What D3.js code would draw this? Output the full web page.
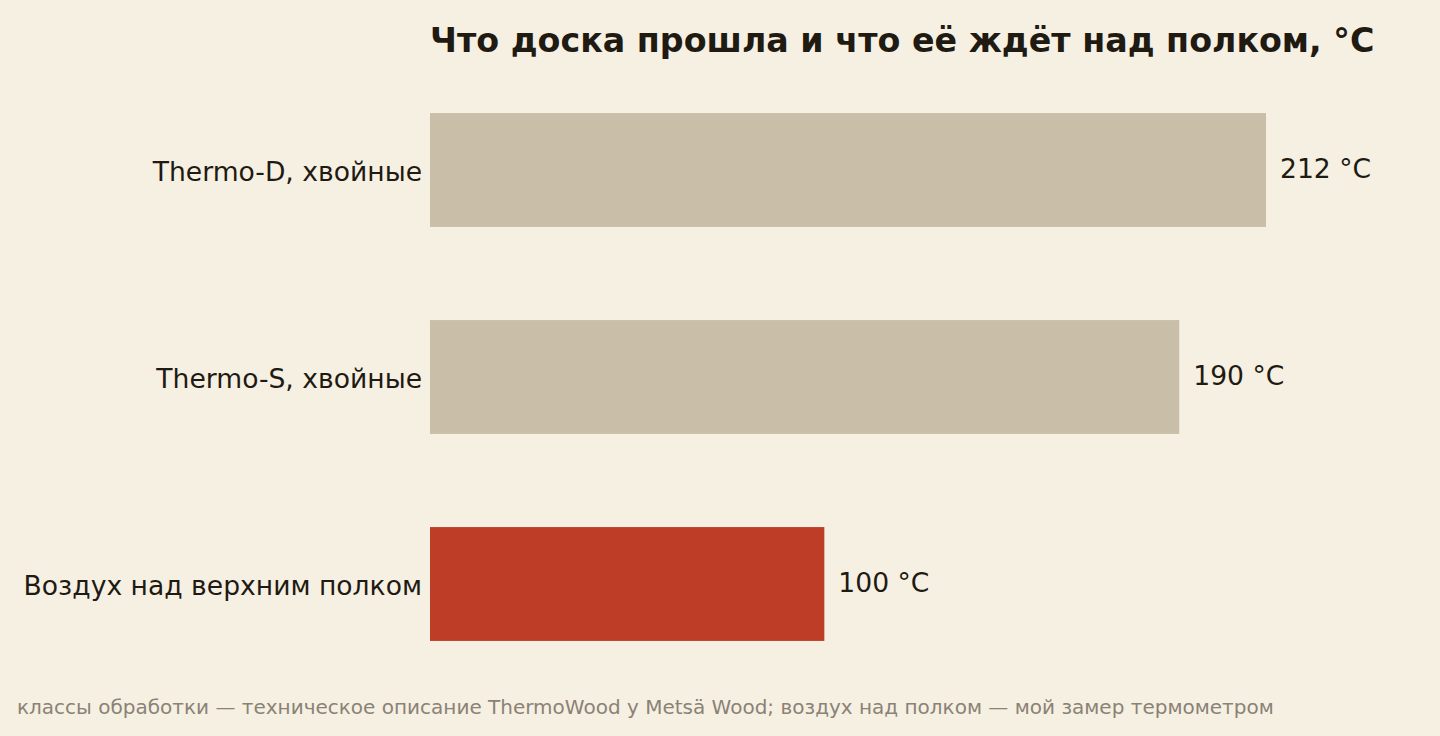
<!DOCTYPE html>
<html>
<head>
<meta charset="utf-8">
<script src="https://cdn.jsdelivr.net/npm/d3@7"></script>
<style>
  html, body { margin: 0; padding: 0; background: #f6f0e3; }
  svg { display: block; }
</style>
</head>
<body>
<svg id="chart"></svg>
<script>
// data
var categories = ["Thermo-D, хвойные", "Thermo-S, хвойные", "Воздух над верхним полком"];
var temps = [212, 190, 100];
var barColors = ["#c9bfa8", "#c9bfa8", "#bd3d26"];

var width = 1440
var height = 736

var svg = d3.select('#chart')
            .attr("width", width)
            .attr("height", height)
            .style("font-family", "'DejaVu Sans', sans-serif");

var rows = categories.map(function(c, i){
    return {name: c, value: temps[i], color: barColors[i]}
});

var x = d3.scaleLinear()
  .domain([0, 212])
  .range([430, 1266]);

var y = d3.scaleBand()
  .domain(categories)
  .range([66.5, 687.5])
  .paddingInner(0.45)
  .paddingOuter(0.225);

svg.append("text")
  .attr("x", 430)
  .attr("y", 52)
  .attr("font-size", 33.3)
  .attr("font-weight", "bold")
  .attr("fill", "#1f1a12")
  .text("Что доска прошла и что её ждёт над полком, °C");

svg.append("g")
  .selectAll("rect")
  .data(rows)
  .join("rect")
    .attr("x", x(0))
    .attr("y", d => y(d.name))
    .attr("width", d => x(d.value) - x(0))
    .attr("height", y.bandwidth())
    .attr("fill", d => d.color);

// category labels
svg.append("g")
  .selectAll("text")
  .data(rows)
  .join("text")
    .attr("x", 422)
    .attr("y", d => y(d.name) + y.bandwidth() / 2 + 2)
    .attr("dy", ".35em")
    .attr("text-anchor", "end")
    .attr("font-size", 26.6)
    .attr("fill", "#1f1a12")
    .text(d => d.name);

// value labels
svg.append("g")
  .selectAll("text")
  .data(rows)
  .join("text")
    .attr("x", d => x(d.value) + 14)
    .attr("y", d => y(d.name) + y.bandwidth() / 2 - 1)
    .attr("dy", ".35em")
    .attr("font-size", 26.6)
    .attr("fill", "#1f1a12")
    .text(d => d.value + " °C");

svg.append("text")
  .attr("x", 17)
  .attr("y", 714)
  .attr("font-size", 20)
  .attr("fill", "#8a8275")
  .text("классы обработки — техническое описание ThermoWood у Metsä Wood; воздух над полком — мой замер термометром");
</script>
</body>
</html>
